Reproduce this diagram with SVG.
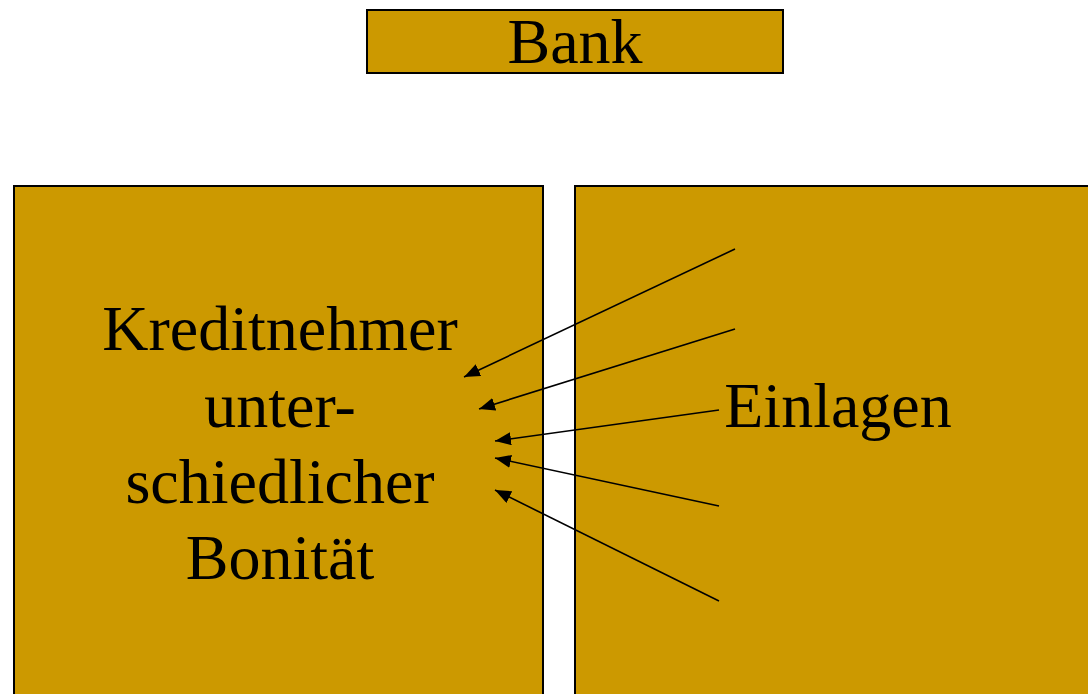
<svg xmlns="http://www.w3.org/2000/svg" width="1088" height="694" viewBox="0 0 1088 694">
  <style>
    .box { fill: #CC9900; stroke: #000; stroke-width: 2; }
    .lbl { font-family: "Liberation Serif", "Times New Roman", serif; font-size: 64px; fill: #000; text-anchor: middle; }
    .flow { stroke: #000; stroke-width: 1.6; fill: none; marker-end: url(#head); }
  </style>
  <defs>
    <marker id="head" markerUnits="userSpaceOnUse" markerWidth="18" markerHeight="14" refX="16" refY="6.5" orient="auto">
      <path d="M0,0 L16,6.5 L0,13 Z" fill="#000"/>
    </marker>
  </defs>
  <rect width="1088" height="694" fill="#fff"/>

  <g id="bank">
    <rect class="box" x="367" y="10" width="416" height="63"/>
    <text class="lbl" x="575" y="63">Bank</text>
  </g>

  <g id="kreditnehmer">
    <rect class="box" x="14" y="186" width="529" height="520"/>
    <text class="lbl" x="280" y="350">Kreditnehmer</text>
    <text class="lbl" x="280" y="427">unter-</text>
    <text class="lbl" x="280" y="503">schiedlicher</text>
    <text class="lbl" x="280" y="579">Bonität</text>
  </g>

  <g id="einlagen">
    <rect class="box" x="575" y="186" width="520" height="520"/>
    <text class="lbl" x="838" y="427">Einlagen</text>
  </g>

  <g id="connectors">
    <line class="flow" x1="735" y1="249" x2="464" y2="377"/>
    <line class="flow" x1="735" y1="329" x2="479" y2="409"/>
    <line class="flow" x1="719" y1="410" x2="495" y2="441"/>
    <line class="flow" x1="719" y1="506" x2="495" y2="458"/>
    <line class="flow" x1="719" y1="601" x2="495" y2="490"/>
  </g>
</svg>
